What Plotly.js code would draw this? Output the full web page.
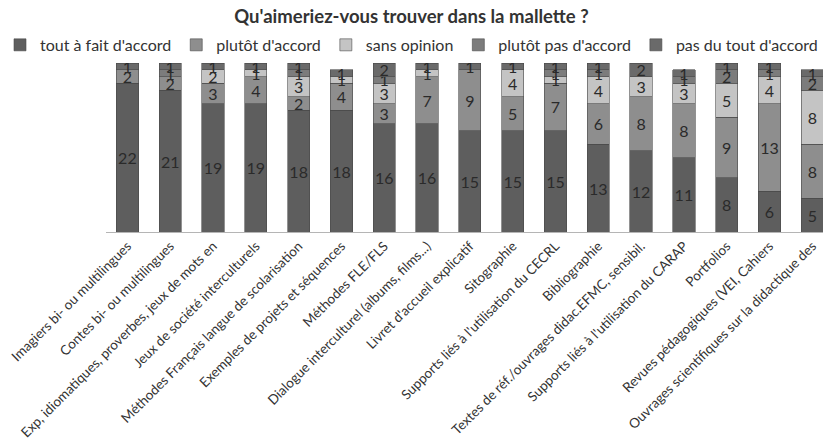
<!DOCTYPE html>
<html>
<head>
<meta charset="utf-8">
<script src="https://cdn.plot.ly/plotly-3.0.1.min.js"></script>
<style>html,body{margin:0;padding:0;background:#fff;}#chart{width:823px;height:444px;}</style>
</head>
<body>
<div id="chart"></div>
<script>
const categories = [
  "Imagiers bi- ou multilingues",
  "Contes bi- ou multilingues",
  "Exp, idiomatiques, proverbes, jeux de mots en",
  "Jeux de société interculturels",
  "Méthodes Français langue de scolarisation",
  "Exemples de projets et séquences",
  "Méthodes FLE/FLS",
  "Dialogue interculturel (albums, films...)",
  "Livret d'accueil explicatif",
  "Sitographie",
  "Supports liés à l'utilisation du CECRL",
  "Bibliographie",
  "Textes de réf./ouvrages didac.EFMC, sensibil.",
  "Supports liés à l'utilisation du CARAP",
  "Portfolios",
  "Revues pédagogiques (VEI, Cahiers",
  "Ouvrages scientifiques sur la didactique des"
];
const seriesNames = ["tout à fait d'accord", "plutôt d'accord", "sans opinion", "plutôt pas d'accord", "pas du tout d'accord"];
const toutAFait   = [22, 21, 19, 19, 18, 18, 16, 16, 15, 15, 15, 13, 12, 11, 8, 6, 5];
const plutot      = [2, 2, 3, 4, 2, 4, 3, 7, 9, 5, 7, 6, 8, 8, 9, 13, 8];
const sansOpinion = [0, 0, 2, 1, 3, 1, 3, 1, 0, 4, 1, 4, 3, 3, 5, 4, 8];
const plutotPas   = [0, 1, 0, 0, 1, 0, 1, 0, 0, 0, 1, 1, 0, 1, 2, 1, 2];
const pasDuTout   = [1, 1, 1, 1, 1, 1, 2, 1, 1, 1, 1, 1, 2, 1, 1, 1, 1];

const seriesValues = [toutAFait, plutot, sansOpinion, plutotPas, pasDuTout];
const colors = ["#5e5e5e", "#8e8e8e", "#c4c4c4", "#7c7c7c", "#6a6a6a"];

const traces = seriesValues.map((vals, i) => ({
  type: "bar",
  name: seriesNames[i],
  x: categories,
  y: vals,
  text: vals.map(v => v > 0 ? String(v) : ""),
  textposition: "inside",
  insidetextanchor: "middle",
  textangle: 0,
  constraintext: "none",
  textfont: {family: "Lato, 'Open Sans', sans-serif", size: 16, color: "#2a2a2a"},
  marker: {color: colors[i], line: {color: "#4a4a4a", width: 0.6}},
  hoverinfo: "skip"
}));

const layout = {
  width: 823,
  height: 444,
  barmode: "stack",
  bargap: 0.48,
  paper_bgcolor: "#ffffff",
  plot_bgcolor: "#ffffff",
  margin: {l: 106, r: 0, t: 63, b: 212},
  font: {family: "Lato, 'Open Sans', sans-serif", color: "#333333"},
  title: {
    text: "<b>Qu'aimeriez-vous trouver dans la mallette ?</b>",
    xref: "container", x: 0.5, xanchor: "center",
    yref: "container", y: 0.962, yanchor: "middle",
    font: {size: 18.5, color: "#333333"}
  },
  showlegend: true,
  legend: {
    orientation: "h",
    xref: "paper", x: -0.143, xanchor: "left",
    yref: "paper", y: 1.107, yanchor: "middle",
    font: {size: 16, color: "#333333"},
    itemwidth: 30,
    traceorder: "normal",
    tracegroupgap: 0
  },
  xaxis: {
    type: "category",
    range: [-0.5, 16.25],
    tickangle: -45,
    tickfont: {size: 13.5, color: "#333333"},
    showline: true,
    linecolor: "#b5b5b5",
    linewidth: 1,
    ticks: "",
    showgrid: false,
    automargin: false
  },
  yaxis: {
    range: [0, 25],
    visible: false,
    showgrid: false,
    zeroline: false
  }
};

Plotly.newPlot("chart", traces, layout, {displayModeBar: false, staticPlot: true});
</script>
</body>
</html>
